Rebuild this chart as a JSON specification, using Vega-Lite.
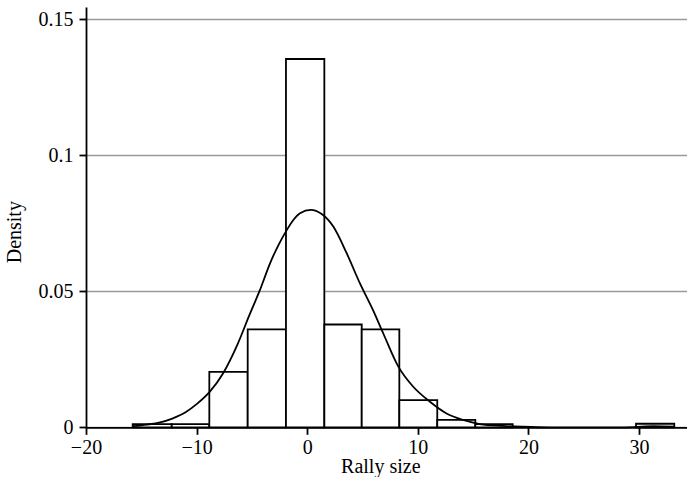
{
  "$schema": "https://vega.github.io/schema/vega-lite/v6.json",
  "autosize": "none",
  "width": 601,
  "height": 420.3,
  "padding": {"left": 86, "top": 7, "right": 0, "bottom": 49.7},
  "background": "white",
  "datasets": {
    "bars": [
      {"bin_start": -15.78, "bin_end": -12.25, "density": 0.0012},
      {"bin_start": -12.25, "bin_end": -8.85, "density": 0.0012},
      {"bin_start": -8.85, "bin_end": -5.38, "density": 0.0204},
      {"bin_start": -5.38, "bin_end": -1.92, "density": 0.0360},
      {"bin_start": -1.92, "bin_end": 1.55, "density": 0.1354},
      {"bin_start": 1.55, "bin_end": 4.93, "density": 0.0378},
      {"bin_start": 4.93, "bin_end": 8.33, "density": 0.0360},
      {"bin_start": 8.33, "bin_end": 11.76, "density": 0.0100},
      {"bin_start": 11.76, "bin_end": 15.2, "density": 0.0027},
      {"bin_start": 15.2, "bin_end": 18.58, "density": 0.0012},
      {"bin_start": 29.73, "bin_end": 33.19, "density": 0.0013}
    ],
    "curve": [
      {"x": -15.78, "d": 0.0004},
      {"x": -14.5, "d": 0.0010},
      {"x": -13.3, "d": 0.0018},
      {"x": -12.2, "d": 0.0032},
      {"x": -11.0, "d": 0.0055},
      {"x": -10.0, "d": 0.0085},
      {"x": -8.8, "d": 0.0131},
      {"x": -7.6, "d": 0.0199},
      {"x": -6.3, "d": 0.0305},
      {"x": -5.2, "d": 0.0415},
      {"x": -4.27, "d": 0.0505},
      {"x": -3.36, "d": 0.0603},
      {"x": -2.6, "d": 0.0670},
      {"x": -1.85, "d": 0.0725},
      {"x": -1.2, "d": 0.0765},
      {"x": -0.65, "d": 0.0787},
      {"x": 0.32, "d": 0.0799},
      {"x": 1.31, "d": 0.0784},
      {"x": 2.36, "d": 0.0738},
      {"x": 3.57, "d": 0.0640},
      {"x": 4.77, "d": 0.0529},
      {"x": 5.9, "d": 0.0435},
      {"x": 6.9, "d": 0.0343},
      {"x": 8.24, "d": 0.0223},
      {"x": 9.59, "d": 0.0149},
      {"x": 11.1, "d": 0.0094},
      {"x": 12.6, "d": 0.0051},
      {"x": 14.1, "d": 0.0027},
      {"x": 15.6, "d": 0.0012},
      {"x": 17.7, "d": 0.0005},
      {"x": 19.5, "d": 0.0002},
      {"x": 22.0, "d": 0.0},
      {"x": 28.0, "d": 0.0},
      {"x": 29.5, "d": 0.0001},
      {"x": 31.3, "d": 0.0004},
      {"x": 33.19, "d": 0.0002}
    ]
  },
  "layer": [
    {
      "data": {"name": "bars"},
      "mark": {"type": "rect", "fill": "white", "stroke": "black", "strokeWidth": 1.8},
      "encoding": {
        "x": {
          "field": "bin_start", "type": "quantitative",
          "scale": {"domain": [-20, 34.34], "nice": false, "zero": false},
          "axis": {
            "title": "Rally size",
            "values": [-20, -10, 0, 10, 20, 30],
            "grid": false,
            "tickSize": 7,
            "labelPadding": 3,
            "titleX": 294.3,
            "titleY": 45.2,
            "titleAlign": "center",
            "titleBaseline": "alphabetic"
          }
        },
        "x2": {"field": "bin_end"},
        "y": {
          "field": "density", "type": "quantitative",
          "scale": {"domain": [0, 0.15452], "nice": false},
          "axis": {
            "title": "Density",
            "values": [0, 0.05, 0.1, 0.15],
            "format": "~g",
            "grid": true,
            "gridColor": "#9a9a9a",
            "gridWidth": 1.6,
            "tickSize": 7,
            "labelPadding": 6,
            "titleX": -66,
            "titleY": 224.7,
            "titleAngle": -90,
            "titleAlign": "center",
            "titleBaseline": "alphabetic"
          }
        },
        "y2": {"datum": 0}
      }
    },
    {
      "data": {"name": "curve"},
      "mark": {"type": "line", "color": "black", "strokeWidth": 1.8, "interpolate": "monotone"},
      "encoding": {
        "x": {"field": "x", "type": "quantitative"},
        "y": {"field": "d", "type": "quantitative"}
      }
    }
  ],
  "config": {
    "view": {"stroke": null},
    "font": "Liberation Serif",
    "axis": {
      "labelFont": "Liberation Serif",
      "titleFont": "Liberation Serif",
      "labelFontSize": 20,
      "titleFontSize": 20,
      "titleFontWeight": "normal",
      "labelColor": "black",
      "titleColor": "black",
      "domainColor": "black",
      "domainWidth": 1.8,
      "tickColor": "black",
      "tickWidth": 1.8,
      "labelFlush": false,
      "labelOverlap": false
    },
    "axisX": {"labelAngle": 0}
  }
}
